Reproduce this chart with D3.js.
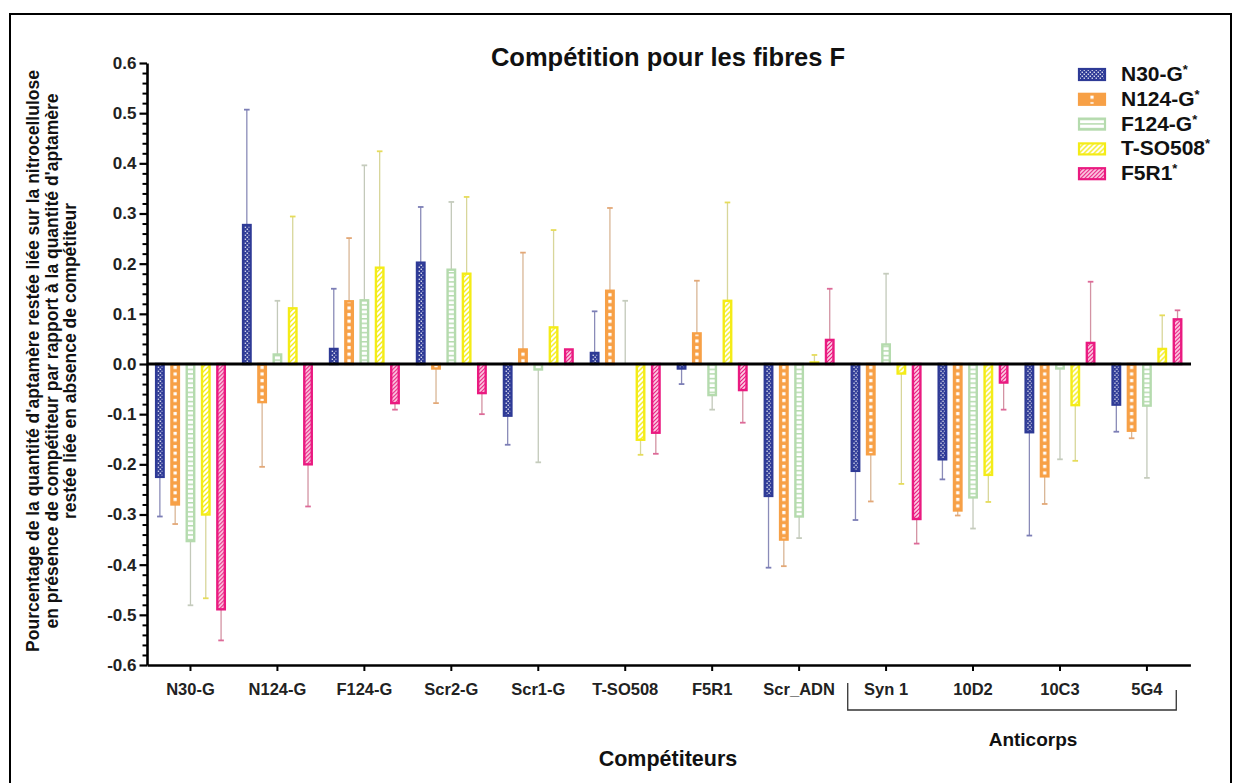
<!DOCTYPE html>
<html><head><meta charset="utf-8">
<script src="https://cdn.jsdelivr.net/npm/d3@7"></script>
<style>
html,body{margin:0;padding:0;background:#fff;}
svg{display:block;font-family:"Liberation Sans",Arial,sans-serif;}
</style></head>
<body><svg id="chart" width="1233" height="783"></svg>
<script>
// ---------- DATA ----------
const categories = ["N30-G","N124-G","F124-G","Scr2-G","Scr1-G","T-SO508","F5R1","Scr_ADN","Syn 1","10D2","10C3","5G4"];
const seriesNames = ["N30-G","N124-G","F124-G","T-SO508","F5R1"];
const valN30G   = [-0.225, 0.277, 0.030, 0.202,-0.103, 0.022,-0.009,-0.263,-0.213,-0.190,-0.136,-0.081];
const errN30G   = [ 0.079, 0.230, 0.120, 0.111, 0.058, 0.083, 0.031, 0.143, 0.098, 0.040, 0.206, 0.054];
const valN124G  = [-0.280,-0.076, 0.125,-0.009, 0.029, 0.146, 0.061,-0.350,-0.180,-0.292,-0.224,-0.133];
const errN124G  = [ 0.039, 0.129, 0.126, 0.069, 0.193, 0.165, 0.105, 0.053, 0.094, 0.010, 0.055, 0.015];
const valF124G  = [-0.353, 0.019, 0.127, 0.188,-0.011, 0.000,-0.062,-0.304, 0.039,-0.266,-0.009,-0.083];
const errF124G  = [ 0.128, 0.107, 0.269, 0.135, 0.185, 0.126, 0.029, 0.043, 0.141, 0.062, 0.181, 0.144];
const valTSO508 = [-0.300, 0.111, 0.192, 0.180, 0.073,-0.151, 0.126, 0.003,-0.019,-0.221,-0.082, 0.030];
const errTSO508 = [ 0.167, 0.183, 0.232, 0.153, 0.194, 0.030, 0.196, 0.015, 0.220, 0.054, 0.111, 0.067];
const valF5R1   = [-0.489,-0.200,-0.078,-0.058, 0.029,-0.137,-0.052, 0.048,-0.309,-0.037, 0.042, 0.089];
const errF5R1   = [ 0.062, 0.084, 0.013, 0.042, 0.000, 0.042, 0.065, 0.102, 0.049, 0.054, 0.122, 0.018];
const yTickValues = [-0.6,-0.5,-0.4,-0.3,-0.2,-0.1,0.0,0.1,0.2,0.3,0.4,0.5,0.6];
const titleText = "Compétition pour les fibres F";
const yTitleLines = ["Pourcentage de la quantité d'aptamère restée liée sur la nitrocellulose",
                     "en présence de compétiteur par rapport à la quantité d'aptamère",
                     "restée liée en absence de compétiteur"];
const xTitle = "Compétiteurs";
const groupLabel = "Anticorps";
const groupStart = "Syn 1", groupEnd = "5G4";

// ---------- STYLE ----------
const values = [valN30G, valN124G, valF124G, valTSO508, valF5R1];
const errors = [errN30G, errN124G, errF124G, errTSO508, errF5R1];
const barColors = ["#2e3a96","#f7a046","#b5dbae","#f4ec17","#ea1a80"];
const errLine   = ["#8a8bb8","#d9b696","#c3c9ba","#d8d69a","#d393a3"];
const errCap    = ["#7c7eb6","#e3a877","#c5ccbd","#e6dc5a","#dd6a98"];

const svg = d3.select("#chart");
const defs = svg.append("defs");
const FONT = "'Liberation Sans',Arial,sans-serif";

// frame
svg.append("rect").attr("x",10).attr("y",14).attr("width",1221).attr("height",790)
  .attr("fill","none").attr("stroke","#000").attr("stroke-width",2);

const x0 = d3.scaleBand().domain(categories).range([147,1190.4]).paddingInner(0.187).paddingOuter(0.0935);
const x1 = d3.scaleBand().domain(seriesNames).range([0,x0.bandwidth()]).paddingInner(0.38).paddingOuter(0);
const y  = d3.scaleLinear().domain([-0.6,0.6]).range([665,63]);

function makePattern(id, s, bx, by, bw){
  const p = defs.append("pattern").attr("id",id).attr("patternUnits","userSpaceOnUse");
  if(s===0){
    p.attr("x",bx).attr("y",by).attr("width",4).attr("height",4);
    p.append("rect").attr("width",4).attr("height",4).attr("fill",barColors[0]);
    p.append("rect").attr("x",0.6).attr("y",0.6).attr("width",1.3).attr("height",1.3).attr("fill","#fff");
    p.append("rect").attr("x",2.6).attr("y",2.6).attr("width",1.3).attr("height",1.3).attr("fill","#fff");
  } else if(s===1){
    p.attr("x",bx).attr("y",by).attr("width",bw).attr("height",6.6);
    p.append("rect").attr("width",bw).attr("height",6.6).attr("fill",barColors[1]);
    p.append("rect").attr("x",bw/2-1.6).attr("y",1.8).attr("width",3.2).attr("height",3.2).attr("fill","#fff");
  } else if(s===2){
    p.attr("x",bx).attr("y",by).attr("width",4).attr("height",4.6);
    p.append("rect").attr("width",4).attr("height",4.6).attr("fill","#fff");
    p.append("rect").attr("y",0).attr("width",4).attr("height",1.5).attr("fill",barColors[2]);
  } else if(s===3){
    p.attr("x",bx).attr("y",by).attr("width",5).attr("height",5);
    p.append("rect").attr("width",5).attr("height",5).attr("fill","#fff");
    p.append("path").attr("d","M0,5L5,0M-1,1L1,-1M4,6L6,4").attr("stroke",barColors[3]).attr("stroke-width",1.4);
  } else {
    p.attr("x",bx).attr("y",by).attr("width",4).attr("height",4);
    p.append("rect").attr("width",4).attr("height",4).attr("fill","#fbd3e6");
    p.append("path").attr("d","M0,4L4,0M-1,1L1,-1M3,5L5,3").attr("stroke",barColors[4]).attr("stroke-width",1.2);
  }
  return "url(#"+id+")";
}

// y title
const yt = svg.append("text").attr("transform","translate(0,361) rotate(-90)")
  .attr("text-anchor","middle").attr("font-weight","bold").attr("font-size",17.5).attr("fill","#111");
yTitleLines.forEach((t,i)=> yt.append("tspan").attr("x",0).attr("y",39 + i*18.5).text(t));

// title
svg.append("text").attr("x",668).attr("y",66).attr("text-anchor","middle")
  .attr("font-weight","bold").attr("font-size",25.5).attr("fill","#111").text(titleText);

// bars + error bars
const g = svg.append("g");
categories.forEach((c,ci)=>{
  seriesNames.forEach((sn,si)=>{
    const v = values[si][ci], e = errors[si][ci];
    const bx = x0(c) + x1(sn), bw = x1.bandwidth();
    const cx = bx + bw/2;
    const end = v >= 0 ? v + e : v - e;
    if (e > 0){
      g.append("line").attr("x1",cx).attr("x2",cx).attr("y1",y(v)).attr("y2",y(end))
        .attr("stroke",errLine[si]).attr("stroke-width",1.3);
      g.append("line").attr("x1",cx-2.8).attr("x2",cx+2.8).attr("y1",y(end)).attr("y2",y(end))
        .attr("stroke",errCap[si]).attr("stroke-width",1.8);
    }
    if (Math.abs(v) > 0){
      const top = y(Math.max(v,0)), bot = y(Math.min(v,0));
      const fill = makePattern("p"+si+"_"+ci, si, bx, y(0), bw);
      g.append("rect").attr("x",bx+1).attr("y",top).attr("width",bw-2).attr("height",Math.max(bot-top,0.5))
        .attr("fill",fill).attr("stroke",barColors[si]).attr("stroke-width",2.4);
    }
  });
});

// zero line
svg.append("line").attr("x1",147).attr("x2",1191).attr("y1",y(0)).attr("y2",y(0))
  .attr("stroke","#000").attr("stroke-width",2.8);

// y axis minor
const minor = d3.range(-30,31).map(d=>d/50).filter(d=>Math.abs(Math.round(d*10)-d*10)>1e-6);
svg.append("g").attr("transform","translate(147,0)")
  .call(d3.axisLeft(y).tickValues(minor).tickSize(4.5).tickFormat("").tickSizeOuter(0))
  .call(s=>{s.select(".domain").remove(); s.selectAll("line").attr("stroke","#000").attr("stroke-width",2);});
// y axis major
svg.append("g").attr("transform","translate(147,0)")
  .call(d3.axisLeft(y).tickValues(yTickValues).tickSize(7.5).tickPadding(3).tickSizeOuter(0).tickFormat(d=>d.toFixed(1)))
  .call(s=>{
    s.select(".domain").attr("stroke","#000").attr("stroke-width",2.6);
    s.selectAll(".tick line").attr("stroke","#000").attr("stroke-width",2.2);
    s.selectAll("text").attr("font-family",FONT).attr("font-weight","bold").attr("font-size",17).attr("fill","#222");
  });

// x axis
svg.append("g").attr("transform","translate(0,665)")
  .call(d3.axisBottom(x0).tickSize(6).tickPadding(12).tickSizeOuter(0))
  .call(s=>{
    s.select(".domain").attr("stroke","#000").attr("stroke-width",2.6);
    s.selectAll(".tick line").attr("stroke","#000").attr("stroke-width",2);
    s.selectAll("text").attr("font-family",FONT).attr("font-weight","bold").attr("font-size",16.5).attr("fill","#222");
  });

// bracket for Anticorps
const bl = x0(groupStart) - 3, br = x0(groupEnd) + x0.bandwidth() - 6;
svg.append("path").attr("d",`M${bl},683V710H${br}V690`).attr("fill","none").attr("stroke","#333").attr("stroke-width",1.3);
svg.append("text").attr("x",1033).attr("y",746).attr("text-anchor","middle")
  .attr("font-weight","bold").attr("font-size",19).attr("fill","#111").text(groupLabel);
svg.append("text").attr("x",668).attr("y",766).attr("text-anchor","middle")
  .attr("font-weight","bold").attr("font-size",21.5).attr("fill","#111").text(xTitle);

// legend
const leg = svg.append("g");
seriesNames.forEach((sn,si)=>{
  const ly = 69 + si*24.8;
  const fill = makePattern("lp"+si, si, 1079, ly, 26);
  leg.append("rect").attr("x",1079).attr("y",ly).attr("width",26).attr("height",11)
    .attr("fill",fill).attr("stroke",barColors[si]).attr("stroke-width",2.2);
  const t = leg.append("text").attr("x",1121).attr("y",ly+12).attr("font-weight","bold")
    .attr("font-size",21).attr("fill","#111");
  t.append("tspan").text(sn);
  t.append("tspan").attr("dy",-7).attr("font-size",13).text("*");
});
</script></body></html>
